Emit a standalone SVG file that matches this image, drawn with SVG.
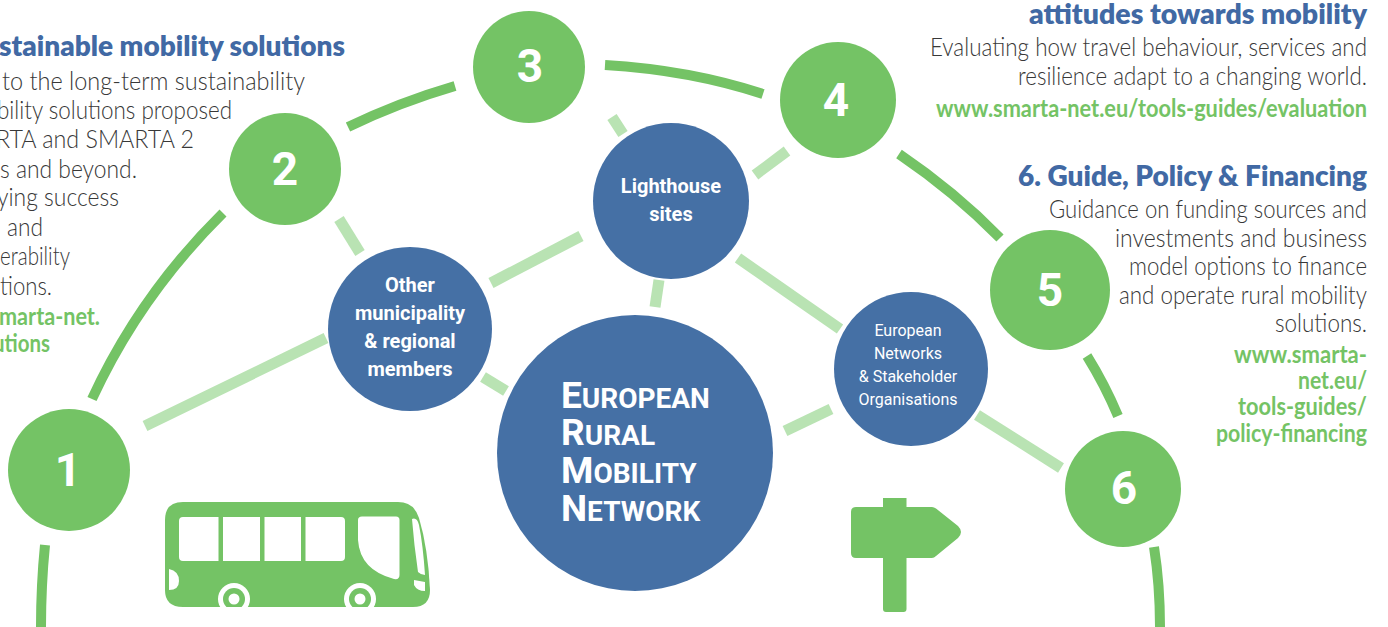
<svg xmlns="http://www.w3.org/2000/svg" width="1388" height="627" viewBox="0 0 1388 627">
<style>
text{font-family:"Lato","Noto Sans",sans-serif}
.h{font-size:29px;font-weight:800;fill:#4169a4}
.b{font-size:25px;font-weight:300;fill:#383838}
.u{font-size:24px;font-weight:700;fill:#74c365}
.n text,.big,.small{font-family:"Roboto","Liberation Sans",sans-serif}
.num{font-size:46px;font-weight:700;fill:#fff;text-anchor:middle}
.lab{font-size:20px;font-weight:700;fill:#fff;text-anchor:middle}
.lab2{font-size:16px;font-weight:400;fill:#fff;text-anchor:middle}
.g{fill:#74c365}
.bl{fill:#4570a5}
.arc{fill:none;stroke:#74c365;stroke-width:10}
.link{stroke:#b9e3b3;stroke-width:11;fill:none}
.big{font-size:37px;font-weight:700;fill:#fff}
.small{font-size:28px;font-weight:700;fill:#fff}
</style>
<rect width="1388" height="627" fill="#fff"/>
<g id="connectors">
<path class="arc" d="M45 545Q41 585 41 627"/>
<path class="arc" d="M92 399Q140 295 223 213"/>
<path class="arc" d="M348 127Q400 102 455 86"/>
<path class="arc" d="M605 65Q690 70 763 94"/>
<path class="arc" d="M899 154Q955 192 1000 238"/>
<path class="arc" d="M1087 356Q1105 385 1118 416"/>
<path class="arc" d="M1154 547Q1160 585 1160 627"/>
<path class="link" d="M145 426L326 338"/>
<path class="link" d="M339 219L360 253"/>
<path class="link" d="M491 283L581 236"/>
<path class="link" d="M483 377L506 391"/>
<path class="link" d="M612 117L623 134"/>
<path class="link" d="M755 175L787 151"/>
<path class="link" d="M659 280L655 307"/>
<path class="link" d="M738 258L840 329"/>
<path class="link" d="M785 431L831 409"/>
<path class="link" d="M977 415L1061 468"/>
</g>
<g id="node-1" class="n"><circle class="g" cx="69" cy="470" r="61"/><text class="num" x="68" y="486">1</text></g>
<g id="node-2" class="n"><circle class="g" cx="285" cy="169" r="56"/><text class="num" x="285" y="185">2</text></g>
<g id="node-3" class="n"><circle class="g" cx="529" cy="67" r="56"/><text class="num" x="530" y="82">3</text></g>
<g id="node-4" class="n"><circle class="g" cx="838" cy="100" r="58"/><text class="num" x="836" y="116">4</text></g>
<g id="node-5" class="n"><circle class="g" cx="1050" cy="290" r="60"/><text class="num" x="1050" y="306">5</text></g>
<g id="node-6" class="n"><circle class="g" cx="1123" cy="489" r="58"/><text class="num" x="1124" y="504">6</text></g>
<g id="lighthouse" class="n"><circle class="bl" cx="671" cy="201" r="78"/><text class="lab" x="671" y="193">Lighthouse</text><text class="lab" x="671" y="221">sites</text></g>
<g id="other-members" class="n"><circle class="bl" cx="410" cy="329" r="82"/><text class="lab" x="410" y="292">Other</text><text class="lab" x="410" y="320">municipality</text><text class="lab" x="410" y="348">&amp; regional</text><text class="lab" x="410" y="376">members</text></g>
<g id="ermn" class="n"><circle class="bl" cx="635" cy="453" r="138"/>
<text x="561" y="408"><tspan class="big">E</tspan><tspan class="small">UROPEAN</tspan></text>
<text x="561" y="445"><tspan class="big">R</tspan><tspan class="small">URAL</tspan></text>
<text x="561" y="483"><tspan class="big">M</tspan><tspan class="small">OBILITY</tspan></text>
<text x="561" y="521"><tspan class="big">N</tspan><tspan class="small">ETWORK</tspan></text></g>
<g id="european-networks" class="n"><circle class="bl" cx="911" cy="369" r="77"/><text class="lab2" x="908" y="336">European</text><text class="lab2" x="908" y="359">Networks</text><text class="lab2" x="908" y="382">&amp; Stakeholder</text><text class="lab2" x="908" y="405">Organisations</text></g>
<g id="bus">
<path class="g" d="M183 502H398Q414 502 419 518Q428 548 430 590Q430 607 413 607H183Q165 607 165 590V520Q165 502 183 502Z"/>
<path fill="#fff" d="M183 517H218.500V561H183Q179 561 179 557V521Q179 517 183 517ZM223 517H260V561H223ZM264.500 517H301V561H264.500ZM305.500 517H341Q345 517 345 521V557Q345 561 341 561H305.500ZM362 516.500H396Q399.500 516.500 399.500 520V575Q399.500 580 394 579Q360 570 358 540V520Q358 516.500 362 516.500ZM412 519Q417 517 419 525Q423 545 425 575Q421 575 418 572Q414 545 412 519ZM169 569Q179 571 179 581Q179 590 169 590ZM414 580L425 582V591Q417 591 414 585Z"/>
<circle cx="234" cy="599" r="16" fill="#fff"/><circle class="g" cx="234" cy="599" r="11"/><circle cx="234" cy="599" r="5.500" fill="#fff"/>
<circle cx="360" cy="599" r="16" fill="#fff"/><circle class="g" cx="360" cy="599" r="11"/><circle cx="360" cy="599" r="5.500" fill="#fff"/>
<rect x="150" y="607" width="290" height="12" fill="#fff"/>
</g>
<g id="signpost">
<path class="g" d="M883 498H906.500V507H932Q934 507 936 508.500L958 526Q964 532 958 538L936 556Q934 558 932 558H906.500V609Q906.500 612 903.500 612H886Q883 612 883 609V558H856Q851 558 851 553V512Q851 507 856 507H883Z"/>
</g>
<g id="text-left">
<text class="h" x="-1" y="56" textLength="346" lengthAdjust="spacingAndGlyphs">stainable mobility solutions</text>
<text class="b" x="2" y="89.500" textLength="303" lengthAdjust="spacingAndGlyphs">to the long-term sustainability</text>
<text class="b" x="-3" y="119" textLength="235" lengthAdjust="spacingAndGlyphs">bility solutions proposed</text>
<text class="b" x="-4" y="148" textLength="198" lengthAdjust="spacingAndGlyphs">RTA and SMARTA 2</text>
<text class="b" x="0" y="177.500" textLength="137" lengthAdjust="spacingAndGlyphs">s and beyond.</text>
<text class="b" x="-3" y="206" textLength="122" lengthAdjust="spacingAndGlyphs">ying success</text>
<text class="b" x="7" y="235.500" textLength="36" lengthAdjust="spacingAndGlyphs">and</text>
<text class="b" x="0" y="265" textLength="70" lengthAdjust="spacingAndGlyphs">erability</text>
<text class="b" x="0" y="295" textLength="52" lengthAdjust="spacingAndGlyphs">tions.</text>
<text class="u" x="-1" y="325" textLength="101" lengthAdjust="spacingAndGlyphs">marta-net.</text>
<text class="u" x="-7" y="352" textLength="57" lengthAdjust="spacingAndGlyphs">utions</text>
</g>
<g id="text-right">
<text class="h" x="1029" y="24" textLength="338" lengthAdjust="spacingAndGlyphs">attitudes towards mobility</text>
<text class="b" x="930" y="56" textLength="437" lengthAdjust="spacingAndGlyphs">Evaluating how travel behaviour, services and</text>
<text class="b" x="1018" y="85" textLength="349" lengthAdjust="spacingAndGlyphs">resilience adapt to a changing world.</text>
<text class="u" x="936" y="117" textLength="431" lengthAdjust="spacingAndGlyphs">www.smarta-net.eu/tools-guides/evaluation</text>
<text class="h" x="1018" y="186" textLength="349" lengthAdjust="spacingAndGlyphs">6. Guide, Policy &amp; Financing</text>
<text class="b" x="1049" y="218" textLength="318" lengthAdjust="spacingAndGlyphs">Guidance on funding sources and</text>
<text class="b" x="1115" y="247" textLength="252" lengthAdjust="spacingAndGlyphs">investments and business</text>
<text class="b" x="1129" y="275" textLength="238" lengthAdjust="spacingAndGlyphs">model options to finance</text>
<text class="b" x="1119" y="304" textLength="248" lengthAdjust="spacingAndGlyphs">and operate rural mobility</text>
<text class="b" x="1275" y="332" textLength="92" lengthAdjust="spacingAndGlyphs">solutions.</text>
<text class="u" x="1234" y="363" textLength="133" lengthAdjust="spacingAndGlyphs">www.smarta-</text>
<text class="u" x="1298" y="389" textLength="69" lengthAdjust="spacingAndGlyphs">net.eu/</text>
<text class="u" x="1238" y="415" textLength="129" lengthAdjust="spacingAndGlyphs">tools-guides/</text>
<text class="u" x="1216" y="442" textLength="151" lengthAdjust="spacingAndGlyphs">policy-financing</text>
</g>
</svg>
